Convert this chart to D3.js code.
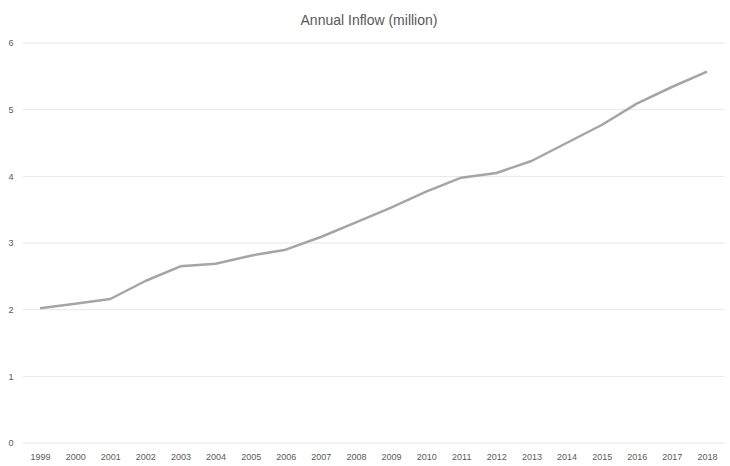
<!DOCTYPE html>
<html>
<head>
<meta charset="utf-8">
<script src="https://cdn.jsdelivr.net/npm/d3@7"></script>
<style>
  body { margin: 0; background: #fff; }
  svg text { font-family: "Liberation Sans Narrow", "Liberation Sans", Arial, sans-serif; fill: #595959; }
</style>
</head>
<body>
<div id="chart"></div>
<script>
// chart data
const years = ["1999","2000","2001","2002","2003","2004","2005","2006","2007","2008",
               "2009","2010","2011","2012","2013","2014","2015","2016","2017","2018"];
const inflow = [2.02, 2.09, 2.16, 2.43, 2.65, 2.69, 2.81, 2.90, 3.09, 3.31,
                3.53, 3.77, 3.98, 4.05, 4.23, 4.50, 4.77, 5.09, 5.34, 5.57];
const yTicks = [0, 1, 2, 3, 4, 5, 6];

const width = 730, height = 466;
const plotLeft = 22.5, plotRight = 724.5, plotTop = 43, plotBottom = 443;

const svg = d3.select("#chart")
    .append("svg")
    .attr("width", width)
    .attr("height", height);

const x = d3.scalePoint()
    .domain(years)
    .range([plotLeft, plotRight])
    .padding(0.5);

const y = d3.scaleLinear()
    .domain([0, 6])
    .range([plotBottom, plotTop]);

// gridlines
svg.append("g")
    .selectAll("line")
    .data(yTicks)
    .enter()
    .append("line")
    .attr("x1", plotLeft)
    .attr("x2", plotRight)
    .attr("y1", d => y(d))
    .attr("y2", d => y(d))
    .attr("stroke", "#e6e6e6")
    .attr("stroke-width", 1);

// y axis labels
const yAxis = svg.append("g")
    .attr("transform", `translate(${plotLeft - 9},0)`)
    .call(d3.axisLeft(y).tickValues(yTicks).tickFormat(d3.format("d")).tickSize(0).tickPadding(0));
yAxis.select(".domain").remove();
yAxis.selectAll("text").attr("font-size", 9).attr("fill", "#595959");

// x axis labels
const xAxis = svg.append("g")
    .attr("transform", `translate(0,${plotBottom + 7})`)
    .call(d3.axisBottom(x).tickSize(0).tickPadding(4));
xAxis.select(".domain").remove();
xAxis.selectAll("text").attr("font-size", 9).attr("fill", "#595959");

// line
const line = d3.line()
    .x((d, i) => x(years[i]))
    .y(d => y(d));

svg.append("path")
    .datum(inflow)
    .attr("d", line)
    .attr("fill", "none")
    .attr("stroke", "#a5a5a5")
    .attr("stroke-width", 2.5)
    .attr("stroke-linejoin", "round");

// title
svg.append("text")
    .attr("x", 369)
    .attr("y", 25)
    .attr("text-anchor", "middle")
    .attr("font-size", 14)
    .text("Annual Inflow (million)");
</script>
</body>
</html>
